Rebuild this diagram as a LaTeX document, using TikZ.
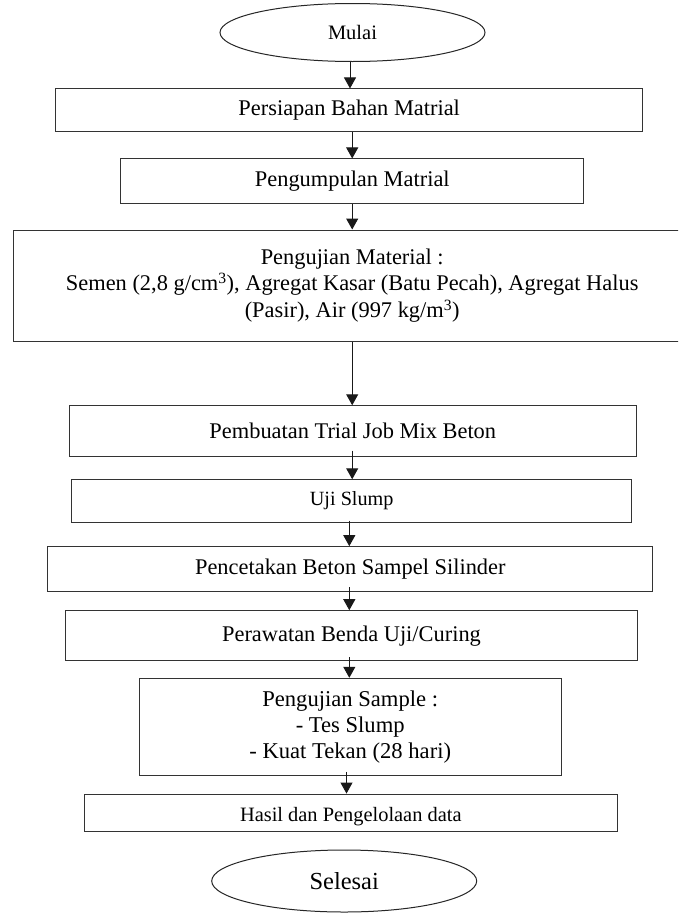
\documentclass[tikz,border=0pt]{standalone}
\usepackage{fontspec}
\setmainfont{Liberation Serif}
\usetikzlibrary{arrows.meta,shapes.geometric}
\tikzset{
  boxnode/.style={draw=black!80, line width=1pt, rectangle, inner sep=0pt, align=center, anchor=center},
  ovalnode/.style={draw=black!85, line width=1pt, ellipse, inner sep=0pt, anchor=center},
  arr/.style={draw=black!90, line width=1pt, -{Triangle[width=12pt,length=11pt]}},
  txt/.style={font=\fontsize{22.4}{26.7}\selectfont}
}
\begin{document}
\begin{tikzpicture}[x=1pt,y=-1pt]
\useasboundingbox (0,0) rectangle (678,913);
\clip (0,0) rectangle (678,913);
\fill[white] (0,0) rectangle (678,913);
% start / end
\node[ovalnode, minimum width=265pt, minimum height=58pt, font=\fontsize{20.5}{24}\selectfont] (mulai) at (352.5,32.5) {Mulai};
\node[ovalnode, minimum width=265pt, minimum height=62pt, font=\fontsize{24.5}{30}\selectfont] (selesai) at (344.2,881) {Selesai};
% boxes
\node[boxnode, txt, minimum width=587pt, minimum height=42.7pt] (b1) at (349.2,110.3) {Persiapan Bahan Matrial};
\node[boxnode, txt, minimum width=463.3pt, minimum height=44.5pt] (b2) at (352.3,181.2) {Pengumpulan Matrial};
\node[boxnode, txt, minimum width=677.7pt, minimum height=111pt] (b3) at (352.2,285.5) {Pengujian Material :\\Semen (2,8 g/cm\textsuperscript{3}), Agregat Kasar (Batu Pecah), Agregat Halus\\(Pasir), Air (997 kg/m\textsuperscript{3})};
\node[boxnode, txt, minimum width=567pt, minimum height=50.3pt] (b4) at (352.8,430.9) {Pembuatan Trial Job Mix Beton};
\node[boxnode, font=\fontsize{20.2}{24}\selectfont, minimum width=560pt, minimum height=42.3pt] (b5) at (351.7,500.9) {Uji Slump};
\node[boxnode, txt, minimum width=604.7pt, minimum height=45.3pt] (b6) at (350.3,569.3) {Pencetakan Beton Sampel Silinder};
\node[boxnode, txt, minimum width=571.6pt, minimum height=50pt] (b7) at (351.5,635.7) {Perawatan Benda Uji/Curing};
\node[boxnode, font=\fontsize{22.6}{26}\selectfont, minimum width=421.7pt, minimum height=97pt] (b8) at (350.2,726.8) {Pengujian Sample :\\- Tes Slump\\- Kuat Tekan (28 hari)};
\node[boxnode, minimum width=533pt, minimum height=37.7pt] (b9) at (350.8,812.9) {};
\node[font=\fontsize{20.4}{24}\selectfont, anchor=center] (t9) at (350.8,816.5) {Hasil dan Pengelolaan data};
% arrow x positions
\coordinate (xa) at (350,0);
\coordinate (xb) at (352.2,0);
\coordinate (xc) at (349.3,0);
\coordinate (xd) at (346.5,0);
% connectors
\draw[arr] (mulai.south -| xa) -- (b1.north -| xa);
\draw[arr] (b1.south -| xb) -- (b2.north -| xb);
\draw[arr] (b2.south -| xb) -- (b3.north -| xb);
\draw[arr] (b3.south -| xb) -- (b4.north -| xb);
\draw[arr] ([yshift=6pt]b4.south -| xb) -- (b5.north -| xb);
\draw[arr] ([yshift=2pt]b5.south -| xc) -- (b6.north -| xc);
\draw[arr] ([yshift=5pt]b6.south -| xc) -- (b7.north -| xc);
\draw[arr] ([yshift=4pt]b7.south -| xc) -- (b8.north -| xc);
\draw[arr] ([yshift=4pt]b8.south -| xd) -- (b9.north -| xd);
\end{tikzpicture}
\end{document}
